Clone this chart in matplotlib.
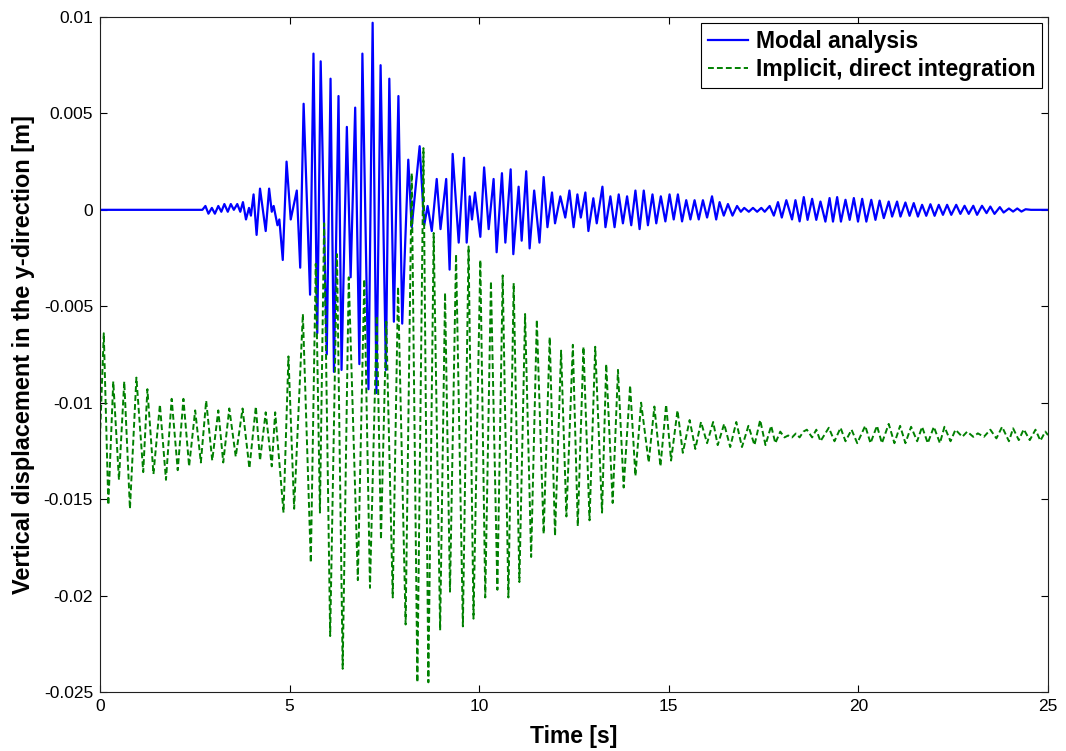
import matplotlib
matplotlib.use("Agg")
import matplotlib.pyplot as plt

plt.rcParams['font.family'] = ['Liberation Sans', 'DejaVu Sans']

# Modal analysis response: successive turning points (time [s], displacement [m])
modal_t = [0.00, 2.70, 2.78, 2.86, 2.95, 3.03, 3.12, 3.20, 3.28, 3.37, 3.45, 3.53, 3.62, 3.70,
           3.77, 3.85, 3.93, 3.98, 4.05, 4.13, 4.22, 4.37, 4.46, 4.53, 4.58, 4.68, 4.73, 4.82,
           4.92, 5.03, 5.19, 5.28, 5.37, 5.54, 5.63, 5.73, 5.82, 5.98, 6.08, 6.17, 6.29, 6.37,
           6.51, 6.61, 6.73, 6.84, 6.92, 7.08, 7.19, 7.29, 7.40, 7.54, 7.63, 7.75, 7.87, 7.97,
           8.13, 8.22, 8.43, 8.55, 8.64, 8.75, 8.88, 8.98, 9.13, 9.22, 9.30, 9.46, 9.60, 9.67,
           9.75, 9.81, 9.89, 10.03, 10.13, 10.25, 10.38, 10.46, 10.60, 10.69, 10.83, 10.90,
           11.04, 11.12, 11.24, 11.33, 11.45, 11.59, 11.70, 11.80, 11.92, 12.00, 12.14, 12.27,
           12.38, 12.49, 12.59, 12.68, 12.80, 12.88, 13.01, 13.10, 13.25, 13.33, 13.46, 13.57,
           13.68, 13.79, 13.90, 14.01, 14.12, 14.23, 14.34, 14.45, 14.57, 14.67, 14.79, 14.91,
           15.02, 15.13, 15.24, 15.35, 15.46, 15.57, 15.68, 15.79, 15.90, 16.01, 16.14, 16.25,
           16.34, 16.45, 16.56, 16.68, 16.80, 16.90, 16.99, 17.11, 17.22, 17.33, 17.44, 17.53,
           17.66, 17.77, 17.88, 17.98, 18.10, 18.25, 18.34, 18.45, 18.56, 18.66, 18.78, 18.89,
           19.00, 19.13, 19.24, 19.33, 19.44, 19.54, 19.66, 19.77, 19.88, 19.99, 20.10, 20.21,
           20.34, 20.45, 20.56, 20.67, 20.80, 20.89, 21.02, 21.11, 21.24, 21.35, 21.46, 21.57,
           21.68, 21.79, 21.90, 22.01, 22.12, 22.23, 22.34, 22.45, 22.58, 22.69, 22.80, 22.91,
           23.03, 23.13, 23.26, 23.38, 23.48, 23.59, 23.73, 23.83, 23.97, 24.08, 24.19, 24.30,
           24.41, 24.55, 25.00]
modal_y = [0.0, 0.0, 0.0002, -0.0002, 0.0001, -0.0002, 0.0002, -0.0001, 0.0003, -0.0001, 0.0003,
           0.0, 0.0003, -0.0001, 0.0004, -0.0005, 0.0001, -0.0003, 0.0008, -0.0013, 0.0011,
           -0.0011, 0.0011, -0.0001, 0.0002, -0.0008, -0.0005, -0.0026, 0.0025, -0.0005, 0.0010,
           -0.0030, 0.0055, -0.0044, 0.0081, -0.0064, 0.0077, -0.0075, 0.0068, -0.0084, 0.0059,
           -0.0083, 0.0043, -0.0035, 0.0053, -0.0080, 0.0081, -0.0093, 0.0097, -0.0095, 0.0075,
           -0.0083, 0.0068, -0.0058, 0.0059, -0.0059, 0.0026, -0.0009, 0.0033, -0.0008, 0.0002,
           -0.0011, 0.0016, -0.0010, 0.0016, -0.0031, 0.0029, -0.0017, 0.0027, -0.0017, 0.0007,
           -0.0005, 0.0009, -0.0014, 0.0022, -0.0010, 0.0016, -0.0022, 0.0019, -0.0017, 0.0021,
           -0.0023, 0.0012, -0.0016, 0.0020, -0.0020, 0.0010, -0.0017, 0.0017, -0.0009, 0.0009,
           -0.0007, 0.0007, -0.0004, 0.0010, -0.0009, 0.0008, -0.0004, 0.0009, -0.0011, 0.0006,
           -0.0007, 0.0012, -0.0009, 0.0007, -0.0009, 0.0008, -0.0007, 0.0007, -0.0008, 0.0010,
           -0.0010, 0.0010, -0.0008, 0.0008, -0.0007, 0.0007, -0.0006, 0.0008, -0.0005, 0.0008,
           -0.0006, 0.0005, -0.0005, 0.0005, -0.0005, 0.0005, -0.0004, 0.0007, -0.0005, 0.0004,
           -0.0003, 0.0003, -0.0003, 0.0002, -0.0001, 0.0001, -0.0001, 0.0001, -0.0001, 0.0001,
           -0.0001, 0.0002, -0.0003, 0.0004, -0.0004, 0.0005, -0.0005, 0.0005, -0.0006, 0.00066,
           -0.00052, 0.00057, -0.00052, 0.00043, -0.00061, 0.00061, -0.00061, 0.00066, -0.00061,
           0.00052, -0.00052, 0.00061, -0.00061, 0.00057, -0.00061, 0.00052, -0.00052, 0.00048,
           -0.00043, 0.00043, -0.00035, 0.00043, -0.00035, 0.00038, -0.00031, 0.00035, -0.00035,
           0.00026, -0.00031, 0.00029, -0.00031, 0.00026, -0.00026, 0.00026, -0.00026, 0.00026,
           -0.00021, 0.00021, -0.00021, 0.00021, -0.00026, 0.00021, -0.00017, 0.00017, -0.00021,
           0.00014, -0.00014, 0.00007, -0.00009, 0.00007, -0.00009, 0.00003, 0.0, 0.0]

# Implicit direct integration response: successive turning points (time [s], displacement [m])
implicit_t = [0.00, 0.10, 0.22, 0.35, 0.50, 0.64, 0.79, 0.96, 1.14, 1.25, 1.41, 1.58, 1.74, 1.89,
              2.05, 2.20, 2.35, 2.51, 2.66, 2.80, 2.96, 3.12, 3.25, 3.41, 3.58, 3.76, 3.94, 4.11,
              4.22, 4.37, 4.53, 4.62, 4.84, 4.97, 5.12, 5.35, 5.56, 5.69, 5.80, 5.91, 6.07, 6.25,
              6.40, 6.56, 6.80, 6.97, 7.12, 7.30, 7.41, 7.55, 7.72, 7.86, 8.06, 8.22, 8.37, 8.53,
              8.66, 8.80, 8.97, 9.10, 9.23, 9.39, 9.57, 9.72, 9.85, 10.03, 10.16, 10.31, 10.48,
              10.62, 10.77, 10.91, 11.06, 11.21, 11.37, 11.52, 11.70, 11.86, 12.00, 12.16, 12.30,
              12.47, 12.60, 12.75, 12.91, 13.06, 13.24, 13.35, 13.52, 13.66, 13.81, 13.98, 14.12,
              14.27, 14.47, 14.62, 14.78, 14.93, 15.06, 15.23, 15.37, 15.55, 15.70, 15.85, 16.01,
              16.17, 16.29, 16.46, 16.62, 16.78, 16.93, 17.10, 17.26, 17.41, 17.55, 17.70, 17.81,
              17.94, 18.05, 18.15, 18.25, 18.35, 18.45, 18.55, 18.64, 18.78, 18.89, 19.00, 19.22,
              19.37, 19.53, 19.66, 19.82, 19.97, 20.18, 20.32, 20.49, 20.62, 20.80, 20.95, 21.10,
              21.24, 21.39, 21.55, 21.68, 21.83, 21.99, 22.15, 22.27, 22.43, 22.56, 22.74, 22.87,
              23.03, 23.15, 23.31, 23.48, 23.64, 23.79, 23.97, 24.08, 24.23, 24.36, 24.52, 24.67,
              24.80, 24.93, 25.00]
implicit_y = [-0.0118, -0.0064, -0.0153, -0.0089, -0.0140, -0.0089, -0.0155, -0.0087, -0.0136,
              -0.0093, -0.0137, -0.0101, -0.0140, -0.0098, -0.0135, -0.0098, -0.0133, -0.0104,
              -0.0131, -0.0099, -0.0130, -0.0104, -0.0131, -0.0103, -0.0128, -0.0103, -0.0134,
              -0.0102, -0.0130, -0.0105, -0.0133, -0.0105, -0.0157, -0.0076, -0.0155, -0.0054,
              -0.0183, -0.0028, -0.0157, -0.0007, -0.0221, -0.0023, -0.0238, -0.0035, -0.0192,
              -0.0036, -0.0196, -0.0055, -0.0171, -0.0058, -0.0201, -0.0040, -0.0215, 0.0019,
              -0.0245, 0.0032, -0.0245, -0.0012, -0.0218, -0.0043, -0.0198, -0.0023, -0.0216,
              -0.0019, -0.0212, -0.0026, -0.0201, -0.0037, -0.0197, -0.0034, -0.0201, -0.0038,
              -0.0193, -0.0054, -0.0180, -0.0057, -0.0168, -0.0066, -0.0169, -0.0073, -0.0159,
              -0.0070, -0.0164, -0.0071, -0.0161, -0.0071, -0.0157, -0.0080, -0.0152, -0.0083,
              -0.0144, -0.0091, -0.0138, -0.0100, -0.0131, -0.0102, -0.0133, -0.0101, -0.0130,
              -0.0104, -0.0126, -0.0109, -0.0124, -0.0110, -0.0121, -0.0110, -0.0122, -0.0111,
              -0.0123, -0.0110, -0.0123, -0.0112, -0.0122, -0.0109, -0.0122, -0.0112, -0.0121,
              -0.0115, -0.0118, -0.0117, -0.0118, -0.0116, -0.0118, -0.0115, -0.0114, -0.0118,
              -0.0114, -0.0120, -0.0113, -0.0120, -0.0113, -0.0120, -0.0114, -0.0121, -0.0112,
              -0.0121, -0.0112, -0.0121, -0.0111, -0.0121, -0.0112, -0.0121, -0.01125, -0.0120,
              -0.01125, -0.0121, -0.01125, -0.0121, -0.01125, -0.0120, -0.0114, -0.01177, -0.0115,
              -0.01177, -0.01159, -0.01177, -0.0114, -0.01185, -0.01125, -0.0120, -0.01133,
              -0.01194, -0.01138, -0.01194, -0.0114, -0.01197, -0.0115, -0.01168]

x_ticks = [0, 5, 10, 15, 20, 25]
y_ticks = [-0.025, -0.02, -0.015, -0.01, -0.005, 0, 0.005, 0.01]
y_tick_labels = ['-0.025', '-0.02', '-0.015', '-0.01', '-0.005', '0', '0.005', '0.01']

fig = plt.figure(figsize=(10.66, 7.51), dpi=100)
ax = fig.add_axes([0.0938, 0.0786, 0.8893, 0.8988])

ax.plot(modal_t, modal_y, color='#0000ff', lw=1.6, label='Modal analysis')
ax.plot(implicit_t, implicit_y, color='#008000', lw=1.4, linestyle=(0, (3.0, 1.6)),
        label='Implicit, direct integration')

ax.set_xlim(0, 25)
ax.set_ylim(-0.025, 0.01)
ax.set_xticks(x_ticks)
ax.set_xticklabels([str(v) for v in x_ticks])
ax.set_yticks(y_ticks)
ax.set_yticklabels(y_tick_labels)
ax.tick_params(direction='in', top=True, right=True, length=5, width=0.8,
               labelsize=12.5, pad=5)
for sp in ax.spines.values():
    sp.set_linewidth(0.8)
    sp.set_color('#202020')

ax.set_xlabel('Time [s]', fontsize=16.5, fontweight='bold', labelpad=8)
ax.set_ylabel('Vertical displacement in the y-direction [m]', fontsize=16.9,
              fontweight='bold', labelpad=6)

leg = ax.legend(loc='upper right', fancybox=False, edgecolor='black', framealpha=1,
                prop={'size': 16.5, 'weight': 'bold'}, handlelength=1.75,
                handletextpad=0.35, labelspacing=0.25, borderpad=0.3, borderaxespad=0.25)
leg.get_frame().set_linewidth(0.8)

fig.savefig('out.png', dpi=100)
